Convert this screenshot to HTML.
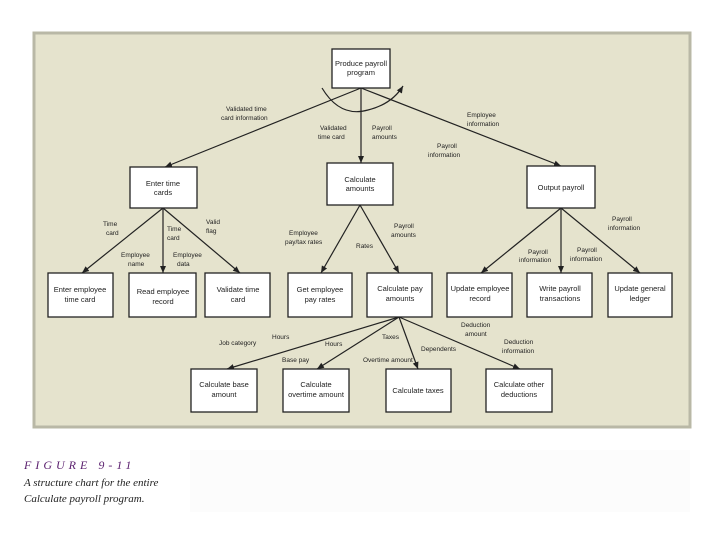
<!DOCTYPE html>
<html><head><meta charset="utf-8"><style>
body{margin:0;width:720px;height:540px;background:#fff;overflow:hidden;font-family:"Liberation Sans",sans-serif}
</style></head><body>
<svg width="720" height="540" xmlns="http://www.w3.org/2000/svg" font-family="Liberation Sans, sans-serif">
<defs><marker id="a" markerWidth="8" markerHeight="8" refX="7" refY="4" orient="auto" markerUnits="userSpaceOnUse"><path d="M0,1 L7,4 L0,7 z" fill="#222"/></marker></defs>
<rect x="34" y="33" width="656" height="394" fill="#e5e3cd" stroke="#b9b8a6" stroke-width="3"/>
<rect x="190" y="450" width="500" height="62" fill="#fcfcfc"/>
<g stroke="#222" stroke-width="1.2" fill="none" marker-end="url(#a)">
<line x1="361" y1="88" x2="165" y2="167"/>
<line x1="361" y1="88" x2="361" y2="163"/>
<line x1="361" y1="88" x2="561" y2="166"/>
<line x1="163" y1="208" x2="82" y2="273"/>
<line x1="163" y1="208" x2="163" y2="273"/>
<line x1="163" y1="208" x2="240" y2="273"/>
<line x1="360" y1="205" x2="321" y2="273"/>
<line x1="360" y1="205" x2="399" y2="273"/>
<line x1="561" y1="208" x2="481" y2="273"/>
<line x1="561" y1="208" x2="561" y2="273"/>
<line x1="561" y1="208" x2="640" y2="273"/>
<line x1="399" y1="317" x2="227" y2="369"/>
<line x1="399" y1="317" x2="317" y2="369"/>
<line x1="399" y1="317" x2="418" y2="369"/>
<line x1="399" y1="317" x2="520" y2="369"/>
<path d="M322,88 Q340,118 368,110 Q392,104 403,86"/>
</g>
<g fill="#fff" stroke="#222" stroke-width="1.3">
<rect x="332" y="49" width="58" height="39"/>
<rect x="130" y="167" width="67" height="41"/>
<rect x="327" y="163" width="66" height="42"/>
<rect x="527" y="166" width="68" height="42"/>
<rect x="48" y="273" width="65" height="44"/>
<rect x="129" y="273" width="67" height="44"/>
<rect x="205" y="273" width="65" height="44"/>
<rect x="288" y="273" width="64" height="44"/>
<rect x="367" y="273" width="65" height="44"/>
<rect x="447" y="273" width="65" height="44"/>
<rect x="527" y="273" width="65" height="44"/>
<rect x="608" y="273" width="64" height="44"/>
<rect x="191" y="369" width="66" height="43"/>
<rect x="283" y="369" width="66" height="43"/>
<rect x="386" y="369" width="65" height="43"/>
<rect x="486" y="369" width="66" height="43"/>
</g>
<g font-size="7.5" fill="#222" text-anchor="middle">
<text x="361" y="66">Produce payroll</text><text x="361" y="75">program</text>
<text x="163" y="186">Enter time</text><text x="163" y="195">cards</text>
<text x="360" y="182">Calculate</text><text x="360" y="191">amounts</text>
<text x="561" y="190">Output payroll</text>
<text x="80" y="292">Enter employee</text><text x="80" y="302">time card</text>
<text x="163" y="294">Read employee</text><text x="163" y="304">record</text>
<text x="238" y="292">Validate time</text><text x="238" y="302">card</text>
<text x="320" y="292">Get employee</text><text x="320" y="302">pay rates</text>
<text x="400" y="291">Calculate pay</text><text x="400" y="301">amounts</text>
<text x="480" y="291">Update employee</text><text x="480" y="301">record</text>
<text x="560" y="291">Write payroll</text><text x="560" y="301">transactions</text>
<text x="640" y="291">Update general</text><text x="640" y="301">ledger</text>
<text x="224" y="387">Calculate base</text><text x="224" y="397">amount</text>
<text x="316" y="387">Calculate</text><text x="316" y="397">overtime amount</text>
<text x="418" y="393">Calculate taxes</text>
<text x="519" y="387">Calculate other</text><text x="519" y="397">deductions</text>
</g>
<g font-size="6.5" fill="#222">
<text x="226" y="111">Validated time</text><text x="221" y="120">card information</text>
<text x="320" y="130">Validated</text><text x="318" y="139">time card</text>
<text x="372" y="130">Payroll</text><text x="372" y="139">amounts</text>
<text x="467" y="117">Employee</text><text x="467" y="126">information</text>
<text x="437" y="148">Payroll</text><text x="428" y="157">information</text>
<text x="103" y="226">Time</text><text x="106" y="235">card</text>
<text x="167" y="231">Time</text><text x="167" y="240">card</text>
<text x="206" y="224">Valid</text><text x="206" y="233">flag</text>
<text x="121" y="257">Employee</text><text x="128" y="266">name</text>
<text x="173" y="257">Employee</text><text x="177" y="266">data</text>
<text x="289" y="235">Employee</text><text x="285" y="244">pay/tax rates</text>
<text x="394" y="228">Payroll</text><text x="391" y="237">amounts</text>
<text x="356" y="248">Rates</text>
<text x="612" y="221">Payroll</text><text x="608" y="230">information</text>
<text x="528" y="254">Payroll</text><text x="519" y="262">information</text>
<text x="577" y="252">Payroll</text><text x="570" y="261">information</text>
<text x="272" y="339">Hours</text><text x="219" y="345">Job category</text>
<text x="325" y="346">Hours</text><text x="282" y="362">Base pay</text>
<text x="382" y="339">Taxes</text><text x="363" y="362">Overtime amount</text>
<text x="421" y="351">Dependents</text>
<text x="461" y="327">Deduction</text><text x="465" y="336">amount</text>
<text x="504" y="344">Deduction</text><text x="502" y="353">information</text>
</g>
<g fill="#5a1f6e" font-family="Liberation Serif, serif" font-style="italic">
<text x="24" y="469" font-size="12" letter-spacing="4">FIGURE 9-11</text>
</g>
<g fill="#222" font-family="Liberation Serif, serif" font-style="italic" font-size="11">
<text x="24" y="486">A structure chart for the entire</text>
<text x="24" y="502">Calculate payroll program.</text>
</g>
</svg>
</body></html>
